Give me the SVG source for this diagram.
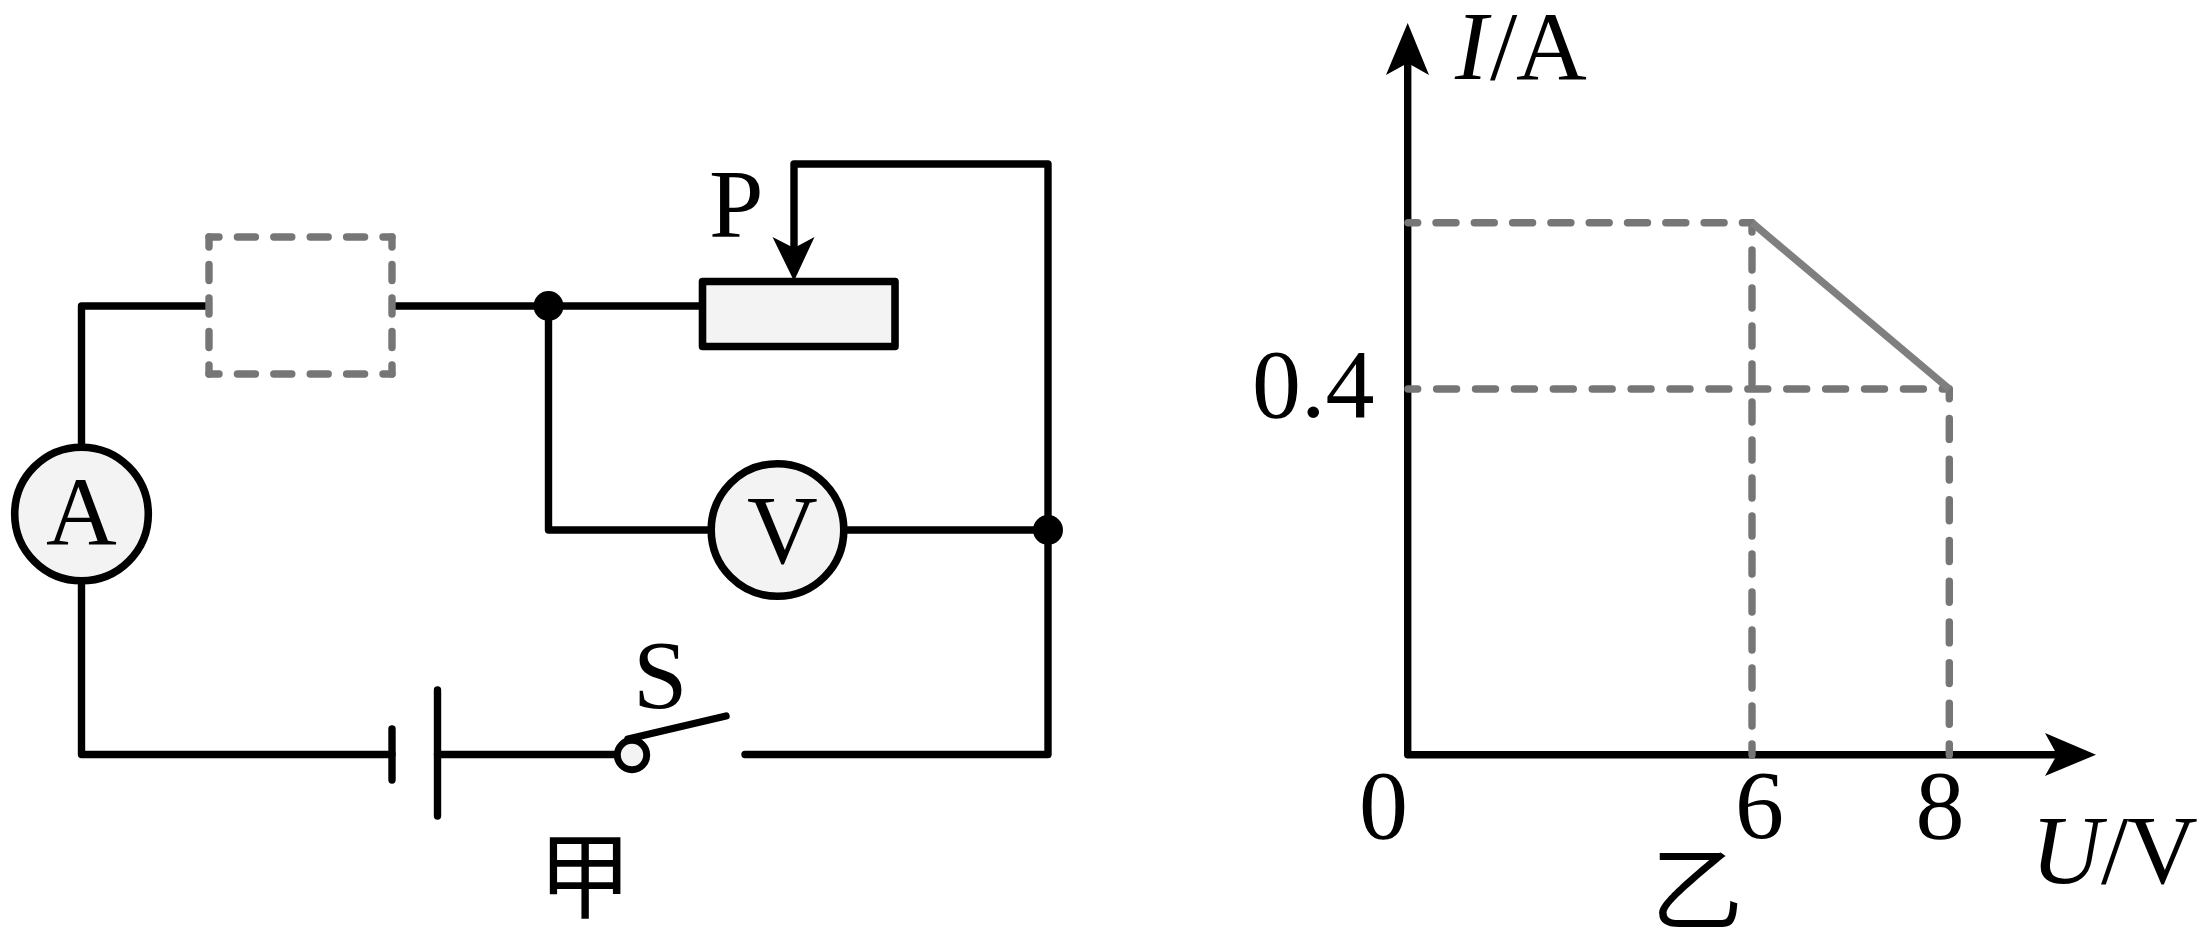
<svg xmlns="http://www.w3.org/2000/svg" width="2207" height="938" viewBox="0 0 2207 938">
<style>
.w{fill:none;stroke:#000;stroke-width:7.4;stroke-linecap:round;stroke-linejoin:round}
.f{fill:#f3f3f3;stroke:#000;stroke-width:7.6;stroke-linejoin:round}
.d{fill:none;stroke:#767676;stroke-width:7.4;stroke-linecap:round}
.t{font-family:"Liberation Serif","Noto Sans CJK SC",serif;font-size:98px;fill:#000}
.c{font-family:"Noto Sans CJK SC","Liberation Serif",serif;fill:#000;text-anchor:middle}
.i{font-style:italic}
</style>
<rect width="2207" height="938" fill="#fff"/>
<g id="connectors">
<path class="w" d="M81.5 444V306H206"/>
<path class="w" d="M396 306H700"/>
<path class="w" d="M548.5 306V530H707"/>
<path class="w" d="M794 250V164H1048V754.5H745"/>
<path class="w" d="M847 530H1048"/>
<path class="w" d="M81.5 584V754.5H392"/>
<path class="w" d="M437.5 754.5H620"/>
<path fill="#000" d="M794 281L772.5 237L794 248L814.5 237Z"/>
</g>
<g id="unknown-element">
<path class="d" stroke-dasharray="18 18.4" stroke-dashoffset="8" d="M209 237H392"/>
<path class="d" stroke-dasharray="18 18.4" stroke-dashoffset="8" d="M209 374H392"/>
<path class="d" stroke-dasharray="16 17.5" stroke-dashoffset="6" d="M209 237V374"/>
<path class="d" stroke-dasharray="16 17.5" stroke-dashoffset="6" d="M392 237V374"/>
</g>
<g id="junction-1"><circle cx="548.5" cy="306" r="15" fill="#000"/></g>
<g id="junction-2"><circle cx="1048" cy="530" r="15" fill="#000"/></g>
<g id="ammeter"><circle class="f" cx="81.5" cy="514" r="66.8"/><text class="t" x="46" y="544">A</text></g>
<g id="voltmeter"><circle class="f" cx="777.5" cy="530" r="66.3"/><text class="t" x="747" y="563">V</text></g>
<g id="rheostat"><rect class="f" x="702.5" y="281.5" width="192.5" height="65"/><text class="t" x="709" y="237">P</text></g>
<g id="battery"><path class="w" d="M392 729V780"/><path class="w" d="M437.5 690V816"/></g>
<g id="switch"><path class="w" d="M628 739L726 716"/><circle cx="632" cy="755" r="14.7" fill="#f3f3f3" stroke="#000" stroke-width="7"/><text class="t" x="633" y="708">S</text></g>
<g id="label-jia"><text class="c" x="585" y="911" font-size="94">甲</text></g>
<g id="chart-axes">
<path class="w" stroke-linecap="butt" d="M2060 754.7H1407.7V60"/>
<path fill="#000" d="M1407.7 23L1429 75L1407.7 63L1386 75Z"/>
<path fill="#000" d="M2096 754.7L2045 733L2057 754.7L2045 776Z"/>
</g>
<g id="chart-guides">
<path class="d" stroke-dasharray="20 18.3" stroke-dashoffset="10.3" d="M1408 222.7H1752"/>
<path class="d" stroke-dasharray="20 18.9" stroke-dashoffset="10.3" d="M1408 389H1949"/>
<path class="d" stroke-dasharray="20 18" stroke-dashoffset="10.7" d="M1752 222.7V755"/>
<path class="d" stroke-dasharray="21 19.7" stroke-dashoffset="11.3" d="M1949.3 389V755"/>
</g>
<g id="chart-curve"><path fill="none" stroke="#7f7f7f" stroke-width="7.4" d="M1752 222.7L1949.3 389"/></g>
<g id="chart-labels">
<text class="t" y="79"><tspan class="i" x="1455">I</tspan><tspan x="1490">/</tspan><tspan x="1516">A</tspan></text>
<text class="t" x="1252" y="417">0.4</text>
<text class="t" x="1359" y="838">0</text>
<text class="t" x="1735" y="838">6</text>
<text class="t" x="1915.5" y="838">8</text>
<text class="t" y="883"><tspan class="i" x="2031">U</tspan><tspan x="2101">/</tspan><tspan x="2127">V</tspan></text>
<text class="c" x="1697" y="923" font-size="92">乙</text>
</g>
</svg>
